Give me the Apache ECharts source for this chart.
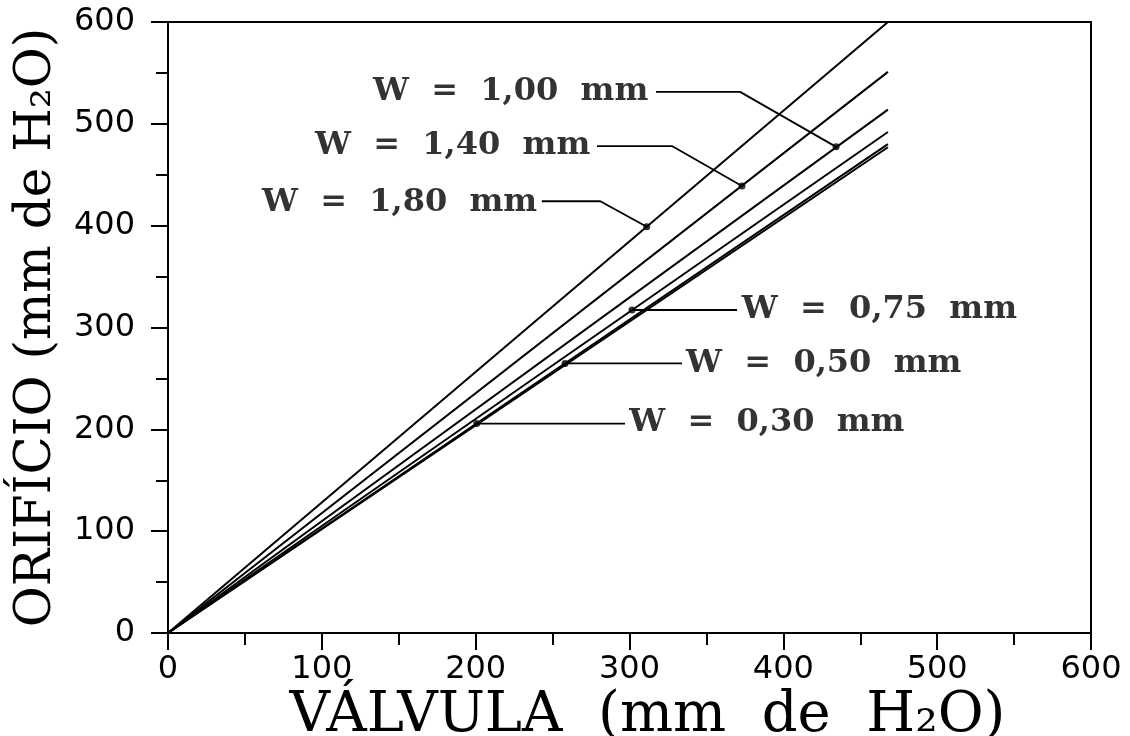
<!DOCTYPE html>
<html>
<head>
<meta charset="utf-8">
<script src="https://cdn.jsdelivr.net/npm/echarts@6/dist/echarts.min.js"></script>
<style>html,body{margin:0;padding:0;background:#fff}#c{width:1130px;height:736px}</style>
</head>
<body>
<div id="c"></div>
<script>
// ---- data ----
const widthLabels = ['W  =  1,80  mm','W  =  1,40  mm','W  =  1,00  mm','W  =  0,75  mm','W  =  0,50  mm','W  =  0,30  mm'];
const lineStartX = [0,0,0,0,0,0];
const lineStartY = [0,0,0,0,0,0];
const lineEndX = [468,468,468,468,468,468];
const lineEndY = [600,551,514,492,480,477];
// leader lines: [text end/start, elbow, dot] in data units
const leaderX = [[243,281,311.2],[278.9,327.6,373.1],[317.2,371.9,434.3],[369.9,301.6],[334.1,258.1],[297.1,200.7]];
const leaderY = [[424,424,399],[478.2,478.2,439],[531.4,531.4,477.4],[317.2,317.2],[264.7,264.7],[205.7,205.7]];
const labelX = [240,274.5,312.2,373,336.8,299.8];
const labelY = [422.5,478.2,531.4,317.2,264.7,207];
const labelSide = ['left','left','left','right','right','right'];
const xTicks = [0,100,200,300,400,500,600];
const yTicks = [0,100,200,300,400,500,600];

const serif = '"DejaVu Serif", serif';
const sans = '"DejaVu Sans", sans-serif';

const series = [];
for (let i = 0; i < lineEndX.length; i++) {
  series.push({
    type: 'line', showSymbol: false, silent: true,
    data: [[lineStartX[i], lineStartY[i]], [lineEndX[i], lineEndY[i]]],
    lineStyle: {color: '#000', width: 2}
  });
}
for (let i = 0; i < leaderX.length; i++) {
  const pts = leaderX[i].map((x, k) => [x, leaderY[i][k]]);
  series.push({
    type: 'line', showSymbol: false, silent: true,
    data: pts, lineStyle: {color: '#000', width: 1.8}
  });
  series.push({
    type: 'scatter', silent: true, symbol: 'circle', symbolSize: 7,
    itemStyle: {color: '#000'},
    data: [pts[pts.length - 1]]
  });
  series.push({
    type: 'scatter', silent: true, symbolSize: 0,
    data: [[labelX[i], labelY[i]]],
    label: {
      show: true, position: labelSide[i], distance: 0,
      formatter: widthLabels[i],
      fontFamily: serif, fontWeight: 'bold', fontSize: 32, color: '#000'
    }
  });
}

const chart = echarts.init(document.getElementById('c'), null, {renderer: 'canvas'});
chart.setOption({
  animation: false,
  backgroundColor: '#fff',
  grid: {left: 168, right: 39, top: 22, bottom: 103, containLabel: false, outerBoundsMode: 'none',
         show: true, borderColor: '#000', borderWidth: 2, backgroundColor: 'transparent'},
  xAxis: {
    type: 'value', min: xTicks[0], max: xTicks[xTicks.length - 1], interval: 100,
    axisLine: {show: true, onZero: false, lineStyle: {color: '#000', width: 2}},
    axisTick: {show: true, inside: false, length: 17, lineStyle: {color: '#000', width: 2}},
    minorTick: {show: true, splitNumber: 2, length: 12, lineStyle: {color: '#000', width: 2}},
    splitLine: {show: false},
    axisLabel: {color: '#000', fontFamily: sans, fontWeight: 'normal', fontSize: 32, margin: 21},
    name: 'VÁLVULA  (mm  de  H₂O)', nameLocation: 'middle', nameGap: 55, nameMoveOverlap: false,
    nameTextStyle: {color: '#000', fontFamily: serif, fontSize: 56, padding: [0, 0, 0, 36]}
  },
  yAxis: {
    type: 'value', min: yTicks[0], max: yTicks[yTicks.length - 1], interval: 100,
    axisLine: {show: true, onZero: false, lineStyle: {color: '#000', width: 2}},
    axisTick: {show: true, inside: false, length: 17, lineStyle: {color: '#000', width: 2}},
    minorTick: {show: true, splitNumber: 2, length: 12, lineStyle: {color: '#000', width: 2}},
    splitLine: {show: false},
    axisLabel: {color: '#000', fontFamily: sans, fontWeight: 'normal', fontSize: 32, margin: 33},
    name: 'ORIFÍCIO (mm de H₂O)', nameLocation: 'middle', nameGap: 106, nameMoveOverlap: false,
    nameTextStyle: {color: '#000', fontFamily: serif, fontSize: 50}
  },
  series: series
});
</script>
</body>
</html>
